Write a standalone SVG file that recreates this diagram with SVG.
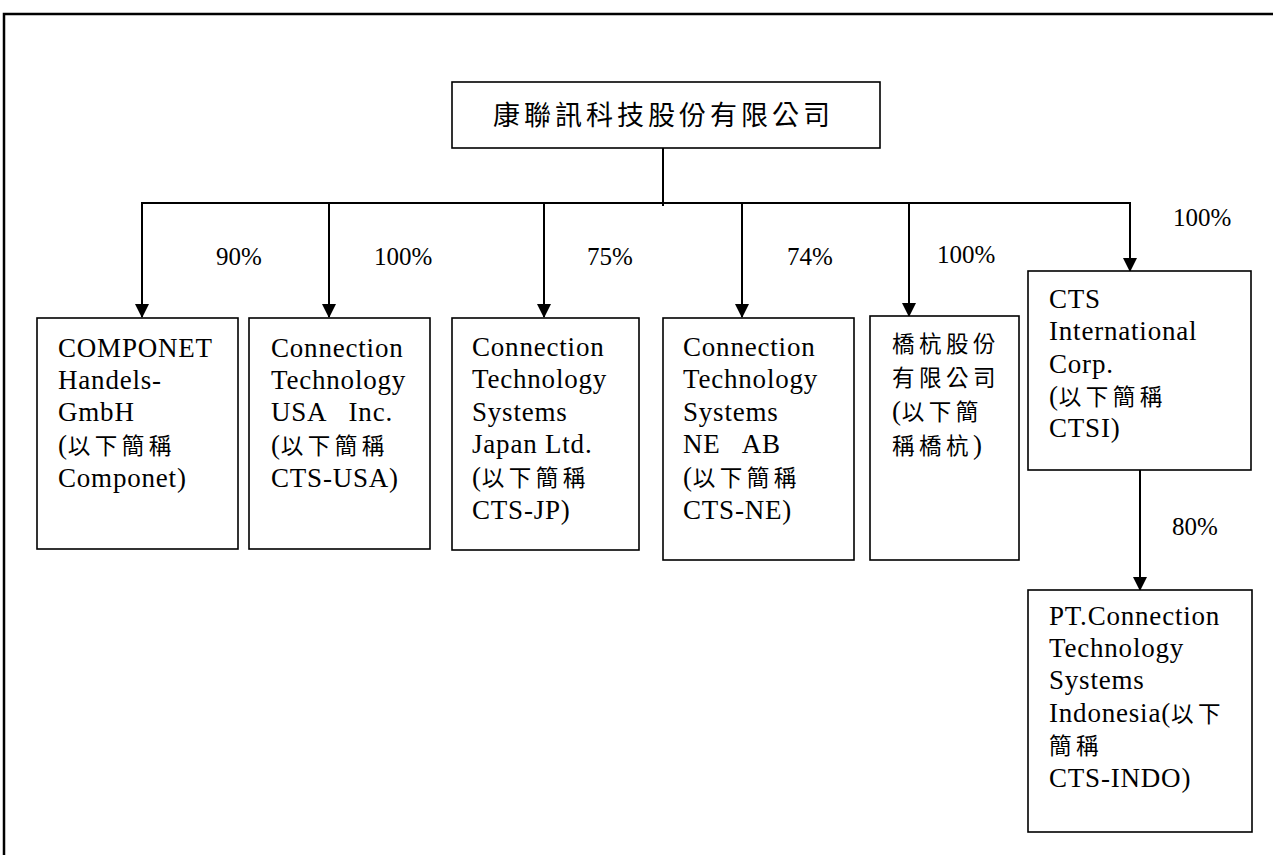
<svg xmlns="http://www.w3.org/2000/svg" width="1273" height="855" viewBox="0 0 1273 855">
<defs>
<marker id="ah" viewBox="0 0 14 14" refX="13" refY="7" markerWidth="14" markerHeight="14" markerUnits="userSpaceOnUse" orient="auto"><path d="M0,0 L14,7 L0,14 Z" fill="#000"/></marker>
<style>
.box{fill:#fff;stroke:#000;stroke-width:1.6}
.t{font-family:"Liberation Serif","Noto Sans CJK TC",serif;font-size:27px;letter-spacing:0.8px;fill:#000;white-space:pre}
.k{font-family:"Noto Sans CJK TC","Liberation Serif",sans-serif;font-size:22.5px;letter-spacing:4.5px;font-weight:400}
.p{font-family:"Liberation Serif","Noto Sans CJK TC",serif;font-size:25px;fill:#000}
.h{font-family:"Noto Sans CJK TC","Liberation Serif",sans-serif;font-size:27px;letter-spacing:4px;font-weight:400;fill:#000}
.c{stroke:#000;stroke-width:2;fill:none}
</style>
</defs>
<rect width="1273" height="855" fill="#fff"/>
<path d="M4,855 V14 H1273" fill="none" stroke="#000" stroke-width="2.5"/>
<g id="connectors">
<path class="c" d="M663,148 V206" stroke-width="1.5"/>
<path class="c" d="M141,203 H1131" stroke-width="1.4"/>
<path class="c" d="M142,204 V317" marker-end="url(#ah)"/>
<path class="c" d="M329,204 V317" marker-end="url(#ah)"/>
<path class="c" d="M544,204 V317" marker-end="url(#ah)"/>
<path class="c" d="M742,204 V317" marker-end="url(#ah)"/>
<path class="c" d="M909,204 V316" marker-end="url(#ah)"/>
<path class="c" d="M1130,204 V271" marker-end="url(#ah)"/>
<path class="c" d="M1140,470 V590" marker-end="url(#ah)"/>
<text class="p" x="216" y="265">90%</text>
<text class="p" x="374" y="265">100%</text>
<text class="p" x="587" y="265">75%</text>
<text class="p" x="787" y="265">74%</text>
<text class="p" x="937" y="263">100%</text>
<text class="p" x="1173" y="226">100%</text>
<text class="p" x="1172" y="535">80%</text>
</g>
<g id="parent">
<rect class="box" x="452" y="82" width="428" height="66"/>
<text class="h" x="493" y="125">康聯訊科技股份有限公司</text>
</g>
<g id="componet">
<rect class="box" x="37" y="318" width="201" height="231"/>
<text class="t"><tspan x="58" y="357">COMPONET</tspan><tspan x="58" y="389">Handels-</tspan><tspan x="58" y="421">GmbH</tspan><tspan x="58" y="454">(<tspan class="k">以下簡稱</tspan></tspan><tspan x="58" y="487">Componet)</tspan></text>
</g>
<g id="cts-usa">
<rect class="box" x="249" y="318" width="181" height="231"/>
<text class="t"><tspan x="271" y="357">Connection</tspan><tspan x="271" y="389">Technology</tspan><tspan x="271" y="421">USA   Inc.</tspan><tspan x="271" y="454">(<tspan class="k">以下簡稱</tspan></tspan><tspan x="271" y="487">CTS-USA)</tspan></text>
</g>
<g id="cts-jp">
<rect class="box" x="452" y="318" width="187" height="232"/>
<text class="t"><tspan x="472" y="356">Connection</tspan><tspan x="472" y="388">Technology</tspan><tspan x="472" y="421">Systems</tspan><tspan x="472" y="453">Japan Ltd.</tspan><tspan x="472" y="486">(<tspan class="k">以下簡稱</tspan></tspan><tspan x="472" y="519">CTS-JP)</tspan></text>
</g>
<g id="cts-ne">
<rect class="box" x="663" y="318" width="191" height="242"/>
<text class="t"><tspan x="683" y="356">Connection</tspan><tspan x="683" y="388">Technology</tspan><tspan x="683" y="421">Systems</tspan><tspan x="683" y="453">NE   AB</tspan><tspan x="683" y="486">(<tspan class="k">以下簡稱</tspan></tspan><tspan x="683" y="519">CTS-NE)</tspan></text>
</g>
<g id="qiaohang">
<rect class="box" x="870" y="316" width="149" height="244"/>
<text class="t"><tspan x="892" y="352" class="k">橋杭股份</tspan><tspan x="892" y="386" class="k">有限公司</tspan><tspan x="892" y="420">(<tspan class="k">以下簡</tspan></tspan><tspan x="892" y="454"><tspan class="k">稱橋杭</tspan>)</tspan></text>
</g>
<g id="ctsi">
<rect class="box" x="1028" y="271" width="223" height="199"/>
<text class="t"><tspan x="1049" y="308">CTS</tspan><tspan x="1049" y="340">International</tspan><tspan x="1049" y="373">Corp.</tspan><tspan x="1049" y="405">(<tspan class="k">以下簡稱</tspan></tspan><tspan x="1049" y="437">CTSI)</tspan></text>
</g>
<g id="cts-indo">
<rect class="box" x="1028" y="590" width="224" height="242"/>
<text class="t"><tspan x="1049" y="625">PT.Connection</tspan><tspan x="1049" y="657">Technology</tspan><tspan x="1049" y="689">Systems</tspan><tspan x="1049" y="722">Indonesia(<tspan class="k">以下</tspan></tspan><tspan x="1049" y="754" class="k">簡稱</tspan><tspan x="1049" y="787">CTS-INDO)</tspan></text>
</g>
</svg>
